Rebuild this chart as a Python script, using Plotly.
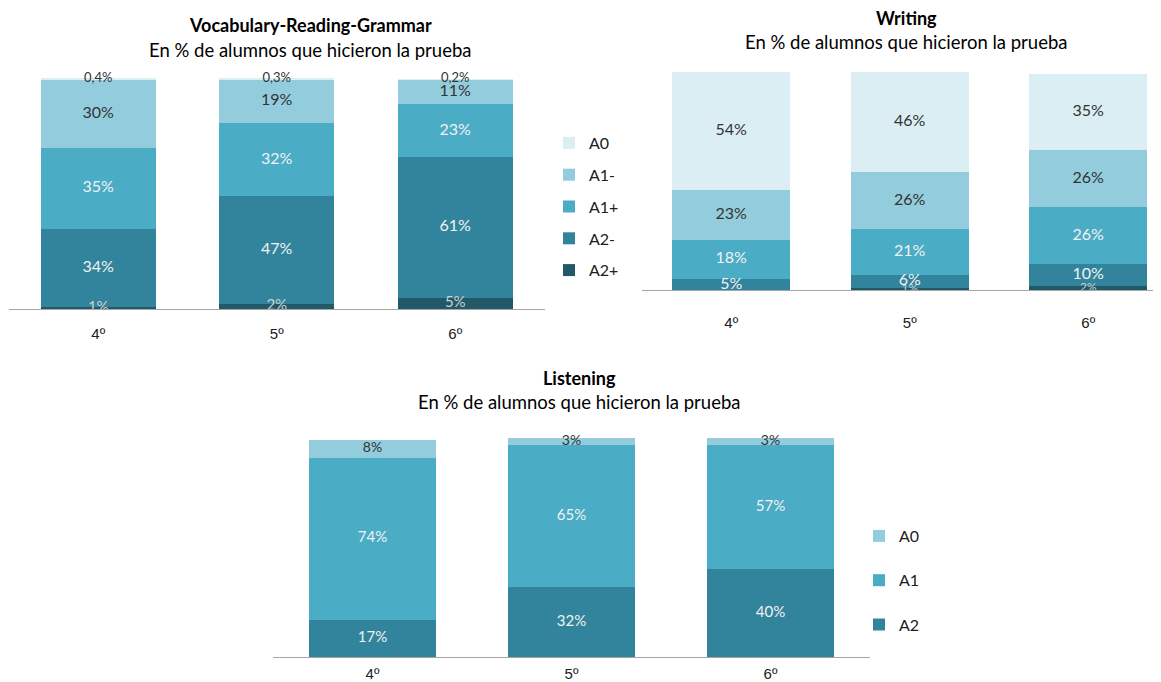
import plotly.graph_objects as go

W, H = 1161, 682
OFF = 8  # default page body margin in the browser
FONT = "Lato"
TICKFONT = "Liberation Sans"

grades = ["4º", "5º", "6º"]

# Vocabulary-Reading-Grammar (bottom to top)
vrg_series = ["A2+", "A2-", "A1+", "A1-", "A0"]
vrg_A2p = [1, 2, 5]
vrg_A2m = [34, 47, 61]
vrg_A1p = [35, 32, 23]
vrg_A1m = [30, 19, 11]
vrg_A0 = [0.4, 0.3, 0.2]

# Writing (bottom to top)
wr_A2p = [None, 1, 2]
wr_A2m = [5, 6, 10]
wr_A1p = [18, 21, 26]
wr_A1m = [23, 26, 26]
wr_A0 = [54, 46, 35]

# Listening (bottom to top)
ls_series = ["A2", "A1", "A0"]
ls_A2 = [17, 32, 40]
ls_A1 = [74, 65, 57]
ls_A0 = [8, 3, 3]

C_A0 = "#DAEEF3"
C_A1m = "#93CDDD"
C_A1p = "#4BACC6"
C_A2m = "#31849B"
C_A2p = "#215968"

DARK = "#333333"
LIGHT = "#F2F2F2"


def px(X):
    return (X - OFF) / W


def py(Y):
    return 1 - (Y - OFF) / H


def fmt(v):
    if v is None:
        return ""
    if abs(v - round(v)) < 1e-9:
        return f"{int(round(v))}%"
    return f"{v:.1f}".replace(".", ",") + "%"


fig = go.Figure()


def add_chart(series_vals, names, colors, txtcolors, sizes, clips, xa, ya, width, legend, showlegend):
    cum = [0.0] * len(grades)
    n = len(names)
    for k, (vals, name, col, tc, sz, cl) in enumerate(zip(series_vals, names, colors, txtcolors, sizes, clips)):
        yv = [v if v is not None else 0 for v in vals]
        fig.add_trace(go.Bar(
            x=grades, y=yv, name=name, marker=dict(color=col, line=dict(width=0)),
            width=width, xaxis=xa, yaxis=ya, showlegend=showlegend,
            legend=legend, legendgroup=legend + name, legendrank=100 + (n - k),
            hoverinfo="skip",
        ))
        mids = [c + v / 2 for c, v in zip(cum, yv)]
        fig.add_trace(go.Scatter(
            x=grades, y=mids, mode="text", text=[fmt(v) for v in vals],
            textfont=dict(family=FONT, size=sz, color=tc),
            xaxis=xa, yaxis=ya, showlegend=False, cliponaxis=cl, hoverinfo="skip",
        ))
        cum = [c + v for c, v in zip(cum, yv)]


add_chart([vrg_A2p, vrg_A2m, vrg_A1p, vrg_A1m, vrg_A0], vrg_series,
          [C_A2p, C_A2m, C_A1p, C_A1m, C_A0],
          ["#D0D0D0", LIGHT, LIGHT, DARK, DARK], [15, 16, 16, 16, 13],
          [True, False, False, False, False], "x", "y", 0.646, "legend", True)
add_chart([wr_A2p, wr_A2m, wr_A1p, wr_A1m, wr_A0], vrg_series,
          [C_A2p, C_A2m, C_A1p, C_A1m, C_A0],
          ["#D0D0D0", LIGHT, LIGHT, DARK, DARK], [12, 16, 16, 16, 16],
          [True, True, False, False, False], "x2", "y2", 0.661, "legend", False)
add_chart([ls_A2, ls_A1, ls_A0], ls_series,
          [C_A2m, C_A1p, C_A1m],
          [LIGHT, LIGHT, DARK], [15, 15, 14], [False, False, False],
          "x3", "y3", 0.643, "legend2", True)

axcommon = dict(showline=True, linecolor="#A6A6A6", linewidth=1, showgrid=False,
                zeroline=False, ticks="", tickfont=dict(family=TICKFONT, size=15, color="#202020"),
                fixedrange=True)
ycommon = dict(visible=False, showgrid=False, zeroline=False, fixedrange=True)

fig.update_layout(
    width=W, height=H, margin=dict(l=0, r=0, t=0, b=0),
    plot_bgcolor="white", paper_bgcolor="white", barmode="stack",
    font=dict(family=FONT, color="#202020"),
    xaxis=dict(domain=[px(9), px(544.5)], range=[-0.5, 2.5], anchor="y",
               ticklabelstandoff=11, **axcommon),
    yaxis=dict(domain=[py(309), py(309 - 2.30 * 105)], range=[0, 105], anchor="x", **ycommon),
    xaxis2=dict(domain=[px(642), min(1.0, px(1161))], range=[-0.5, (1161 - 642) / 178.5 - 0.5],
                anchor="y2", ticklabelstandoff=19, **axcommon),
    yaxis2=dict(domain=[py(290), py(72)], range=[0, 100], anchor="x2", **ycommon),
    xaxis3=dict(domain=[px(273), px(870)], range=[-0.5, 2.5], anchor="y3",
                ticklabelstandoff=3, **axcommon),
    yaxis3=dict(domain=[py(657), py(438)], range=[0, 100], anchor="x3", **ycommon),
    legend=dict(x=px(549), y=py(126), xanchor="left", yanchor="top",
                traceorder="grouped", font=dict(family=FONT, size=16, color="#202020"),
                tracegroupgap=8, itemwidth=30, bgcolor="rgba(0,0,0,0)"),
    legend2=dict(x=px(859), y=py(519), xanchor="left", yanchor="top",
                 traceorder="grouped", font=dict(family=FONT, size=16, color="#202020"),
                 tracegroupgap=20.5, itemwidth=30, bgcolor="rgba(0,0,0,0)"),
    showlegend=True,
)

titles = [
    ("Vocabulary-Reading-Grammar", 310, 25, 50),
    ("Writing", 906, 18, 42),
    ("Listening", 579, 378, 402),
]
for t, cx, ty, sy in titles:
    fig.add_annotation(text=f"<b>{t}</b>", x=px(cx), y=py(ty), xref="paper", yref="paper",
                       showarrow=False, xanchor="center", yanchor="middle",
                       font=dict(family=FONT, size=18, color="#000000"))
    fig.add_annotation(text="En % de alumnos que hicieron la prueba", x=px(cx), y=py(sy),
                       xref="paper", yref="paper", showarrow=False, xanchor="center",
                       yanchor="middle", font=dict(family=FONT, size=18.5, color="#000000"))

fig.write_html("out.html")
